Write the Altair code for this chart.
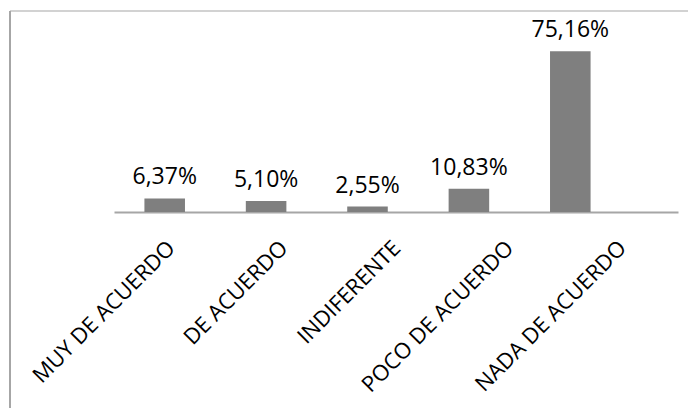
import altair as alt
import pandas as pd

categories = ["MUY DE ACUERDO", "DE ACUERDO", "INDIFERENTE", "POCO DE ACUERDO", "NADA DE ACUERDO"]
values = [6.37, 5.10, 2.55, 10.83, 75.16]
labels = ["6,37%", "5,10%", "2,55%", "10,83%", "75,16%"]

df = pd.DataFrame({"cat": categories, "val": values, "lab": labels})

W, H = 564, 171
FONT = "Open Sans"

y = alt.Y("val:Q", scale=alt.Scale(domain=[0, 80], nice=False, zero=True), axis=None)

xb = alt.X("cat:N", sort=categories, axis=None,
           scale=alt.Scale(range=[0, 507], paddingInner=0.6, paddingOuter=0.3))

bars = alt.Chart(df).mark_bar(color="#7F7F7F").encode(x=xb, y=y)
text = alt.Chart(df).mark_text(baseline="alphabetic", dy=-14, fontSize=23, font=FONT,
                               color="#000000").encode(x=xb, y=y, text="lab:N")

inner = alt.layer(bars, text)

xa = alt.X("cat:N", sort=categories, title=None,
           scale=alt.Scale(paddingInner=0, paddingOuter=0),
           axis=alt.Axis(labelAngle=-45, labelAlign="right", labelBaseline="top",
                         labelPadding=25, labelOffset=-6, ticks=False,
                         domainColor="#A6A6A6", domainWidth=2,
                         labelFont=FONT, labelFontSize=22, labelColor="#000000",
                         labelLimit=400, grid=False))
axis_layer = alt.Chart(df).mark_bar(opacity=0).encode(x=xa, y=y)

one = alt.Data(values=[{"k": 1}])
top_line = alt.Chart(one).mark_rule(color="#A6A6A6", strokeWidth=1.2).encode(
    x=alt.value(-104), x2=alt.value(590), y=alt.value(-30))
left_line = alt.Chart(one).mark_rule(color="#A6A6A6", strokeWidth=2).encode(
    x=alt.value(-104), y=alt.value(-30), y2=alt.value(420))

chart = alt.layer(inner, axis_layer, top_line, left_line).resolve_scale(
    x="independent"
).properties(
    width=W, height=H,
    autosize=alt.AutoSizeParams(type="none"),
    padding={"left": 106, "top": 33, "right": 10, "bottom": 196},
).configure_view(stroke=None)

chart.save("out.html", embed_options={"renderer": "svg", "actions": False})
